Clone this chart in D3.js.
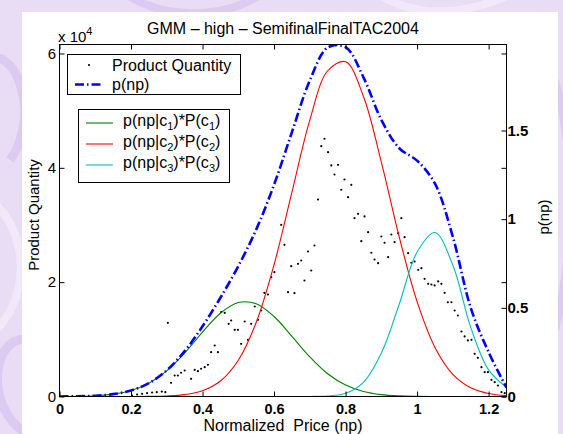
<!DOCTYPE html>
<html>
<head>
<meta charset="utf-8">
<script src="https://cdn.jsdelivr.net/npm/d3@7"></script>
<style>
  html, body { margin: 0; padding: 0; background: #e9ddf6; }
  svg { display: block; font-family: "Liberation Sans", Arial, Helvetica, sans-serif; }
</style>
</head>
<body>
<svg id="chart" width="563" height="434"></svg>
<script>
// normalized price grid for the density curves
const gridX = [0, 0.05, 0.1, 0.15, 0.2, 0.25, 0.3, 0.35, 0.4, 0.45, 0.5, 0.55, 0.6,
  0.65, 0.7, 0.75, 0.8, 0.85, 0.9, 0.95, 1, 1.05, 1.1, 1.15, 1.2, 1.25];
// p(np|c_k)*P(c_k) (right axis)
const pComp1 = [0.0004, 0.0014, 0.0046, 0.0132, 0.0337, 0.0747, 0.1449, 0.2455, 0.3633,
  0.4695, 0.530, 0.523, 0.451, 0.339, 0.2233, 0.1283, 0.0644, 0.0283, 0.0108, 0.0036,
  0.0011, 0.0003, 0.0001, 0, 0, 0];
const pComp2 = [0, 0, 0, 0, 0.0002, 0.0007, 0.003, 0.0106, 0.0326, 0.0874, 0.2047, 0.4176,
  0.743, 1.152, 1.559, 1.837, 1.888, 1.692, 1.322, 0.900, 0.535, 0.277, 0.125, 0.049,
  0.017, 0.005];
const pComp3 = [0, 0, 0, 0, 0, 0, 0, 0, 0, 0, 0, 0, 0, 0, 0.0004, 0.003, 0.018, 0.08,
  0.245, 0.52, 0.815, 0.925, 0.74, 0.39, 0.15, 0.052];
// p(np)
const pTotal = [0.0004, 0.0014, 0.0046, 0.0132, 0.034, 0.075, 0.148, 0.256, 0.396, 0.557,
  0.735, 0.941, 1.194, 1.491, 1.782, 1.968, 1.97, 1.80, 1.56, 1.40, 1.33, 1.20, 0.90,
  0.50, 0.25, 0.05];

// scatter: product quantity vs normalized price (left axis)
const priceX = [0.203, 0.217, 0.231, 0.245, 0.259, 0.272, 0.286, 0.296, 0.303, 0.312,
  0.322, 0.331, 0.340, 0.350, 0.368, 0.378, 0.387, 0.396, 0.406, 0.415, 0.424, 0.434,
  0.443, 0.452, 0.462, 0.473, 0.480, 0.490, 0.499, 0.508, 0.518, 0.527, 0.536, 0.546,
  0.555, 0.564, 0.573, 0.583, 0.592, 0.601, 0.620, 0.629, 0.639, 0.648, 0.657, 0.667,
  0.676, 0.685, 0.695, 0.704, 0.713, 0.723, 0.732, 0.741, 0.751, 0.760, 0.769, 0.779,
  0.788, 0.797, 0.807, 0.816, 0.825, 0.835, 0.844, 0.853, 0.863, 0.872, 0.881, 0.891,
  0.900, 0.909, 0.919, 0.928, 0.937, 0.947, 0.956, 0.965, 0.975, 0.984, 0.993, 1.003,
  1.012, 1.021, 1.031, 1.040, 1.049, 1.059, 1.068, 1.077, 1.086, 1.096, 1.105, 1.114,
  1.124, 1.133, 1.142, 1.152, 1.161, 1.170, 1.180, 1.189, 1.198, 1.208, 1.217, 1.226,
  1.236, 1.245];
const quantity = [170, 350, 470, 580, 700, 750, 870, 750, 12890, 2400,
  3670, 3670, 4150, 4550, 3100, 4670, 4430, 4850, 5130, 5550, 7750, 8920,
  7750, 14750, 14640, 12720, 13290, 11670, 11670, 9220, 13120, 9920, 12720, 15740,
  13420, 15040, 18140, 17840, 20870, 21740, 30030, 26530, 18240, 22790, 18070, 23210,
  23790, 20290, 25360, 22040, 26410, 34460, 43780, 45080, 42730, 40410, 38830, 40530,
  36160, 37960, 34860, 37030, 31190, 31960, 27160, 31490, 28740, 25140, 23960, 23320,
  27990, 26890, 24370, 28340, 26990, 28560, 31190, 27860, 25070, 23390, 23610, 22160,
  22440, 20590, 19710, 19590, 19420, 20120, 19710, 18140, 16490, 16490, 15040, 14170,
  11370, 10500, 9800, 9920, 7470, 6770, 5130, 4250, 4250, 2920, 2500, 1920,
  750, 580];

const xTicks = [0, 0.2, 0.4, 0.6, 0.8, 1, 1.2];
const leftTicks = [0, 20000, 40000, 60000];
const rightTicks = [0, 0.5, 1, 1.5];

const components = [
  { name: '1', values: pComp1, color: '#008000' },
  { name: '2', values: pComp2, color: '#ff0000' },
  { name: '3', values: pComp3, color: '#00bfbf' },
];

const svg = d3.select('#chart');
const box = { left: 59.5, right: 506.5, top: 44.5, bottom: 396.5 };
const FONT = 16;

// page backdrop with soft swirls
const deco = svg.append('g').attr('fill', 'none');
deco.append('rect').attr('width', 563).attr('height', 434).attr('fill', '#e9ddf6');
[
  ['M-20,60 C20,40 40,120 10,160', '#dccbf0', 9],
  ['M-10,200 C30,230 30,300 -5,330', '#f1e9fa', 8],
  ['M40,440 C-20,420 -10,330 30,340', '#dccbf0', 9],
  ['M120,-10 C160,20 220,20 260,-5', '#dccbf0', 8],
  ['M380,-5 C420,20 470,15 520,-10', '#f1e9fa', 8],
  ['M555,80 C575,150 575,250 555,330', '#dccbf0', 8],
].forEach(([d, c, w]) => deco.append('path').attr('d', d).attr('stroke', c).attr('stroke-width', w));

// white figure panel
svg.append('rect')
  .attr('x', 22).attr('y', 12).attr('width', 536).attr('height', 422)
  .attr('fill', '#ffffff');

const x = d3.scaleLinear().domain([0, 1.25]).range([box.left, box.right]);
const yL = d3.scaleLinear().domain([0, 61570]).range([box.bottom, box.top]);
const yR = d3.scaleLinear().domain([0, 1.985]).range([box.bottom, box.top]);

svg.append('clipPath').attr('id', 'plotclip')
  .append('rect')
  .attr('x', box.left).attr('y', box.top)
  .attr('width', box.right - box.left).attr('height', box.bottom - box.top);

const plot = svg.append('g').attr('clip-path', 'url(#plotclip)');

// scatter points
plot.append('g')
  .selectAll('circle')
  .data(priceX.map((v, i) => [v, quantity[i]]))
  .enter()
  .append('circle')
  .attr('cx', (d) => x(d[0]))
  .attr('cy', (d) => yL(d[1]))
  .attr('r', 1.1)
  .attr('fill', '#000');

const line = (vals) => d3.line()
  .x((d, i) => x(gridX[i]))
  .y((d) => yR(d))
  .curve(d3.curveCatmullRom.alpha(0.5))(vals);

components.forEach((c) => {
  plot.append('path')
    .attr('d', line(c.values))
    .attr('fill', 'none')
    .attr('stroke', c.color)
    .attr('stroke-width', 1.1);
});

plot.append('path')
  .attr('d', line(pTotal))
  .attr('fill', 'none')
  .attr('stroke', '#0000ff')
  .attr('stroke-width', 2.6)
  .attr('stroke-dasharray', '9,3,1.5,3');

// axes: inward ticks, mirrored on the box like the original figure
const tick = -5;
const styleAxis = (g, bold, size) => {
  g.select('.domain').remove();
  g.selectAll('line').attr('stroke', '#000');
  g.selectAll('text')
    .attr('fill', '#000')
    .attr('font-family', '"Liberation Sans", Arial, Helvetica, sans-serif')
    .attr('font-size', size || 15)
    .attr('font-weight', bold ? 'bold' : 'normal');
};

svg.append('g')
  .attr('transform', `translate(0,${box.bottom})`)
  .call(d3.axisBottom(x).tickValues(xTicks).tickSize(tick).tickPadding(7)
    .tickFormat((d) => String(d)))
  .call((g) => styleAxis(g, true, 14.5));

svg.append('g')
  .attr('transform', `translate(0,${box.top})`)
  .call(d3.axisTop(x).tickValues(xTicks).tickSize(tick).tickFormat(''))
  .call((g) => styleAxis(g, false));

svg.append('g')
  .attr('transform', `translate(${box.left},0)`)
  .call(d3.axisLeft(yL).tickValues(leftTicks).tickSize(tick).tickPadding(3.5)
    .tickFormat((d) => String(d / 10000)))
  .call((g) => styleAxis(g, false));

svg.append('g')
  .attr('transform', `translate(${box.right},0)`)
  .call(d3.axisRight(yL).tickValues(leftTicks).tickSize(tick).tickFormat(''))
  .call((g) => styleAxis(g, false));

svg.append('g')
  .attr('transform', `translate(${box.right},0)`)
  .call(d3.axisRight(yR).tickValues(rightTicks).tickSize(tick).tickPadding(1)
    .tickFormat((d) => String(d)))
  .call((g) => styleAxis(g, true));

svg.append('rect')
  .attr('x', box.left).attr('y', box.top)
  .attr('width', box.right - box.left).attr('height', box.bottom - box.top)
  .attr('fill', 'none')
  .attr('stroke', '#000')
  .attr('stroke-width', 1);

// titles and labels
svg.append('text')
  .attr('x', (box.left + box.right) / 2).attr('y', 34)
  .attr('text-anchor', 'middle')
  .attr('font-size', FONT)
  .text('GMM \u2013 high \u2013 SemifinalFinalTAC2004');

const exp = svg.append('text').attr('x', 58).attr('y', 42).attr('font-size', 15);
exp.append('tspan').text('x 10');
exp.append('tspan').attr('dy', -7).attr('font-size', 11).text('4');

svg.append('text')
  .attr('x', (box.left + box.right) / 2).attr('y', 430.5)
  .attr('text-anchor', 'middle')
  .attr('font-size', FONT)
  .attr('xml:space', 'preserve')
  .text('Normalized  Price (np)');

svg.append('text')
  .attr('transform', `translate(39,215) rotate(-90)`)
  .attr('text-anchor', 'middle')
  .attr('font-size', 15)
  .text('Product Quantity');

svg.append('text')
  .attr('transform', `translate(549,217) rotate(-90)`)
  .attr('text-anchor', 'middle')
  .attr('font-size', 15)
  .text('p(np)');

// legend 1
const leg1 = svg.append('g');
leg1.append('rect')
  .attr('x', 67.5).attr('y', 54.5).attr('width', 173).attr('height', 40)
  .attr('fill', '#fff').attr('stroke', '#000');
leg1.append('circle').attr('cx', 89).attr('cy', 65).attr('r', 1.1).attr('fill', '#000');
leg1.append('text').attr('x', 112).attr('y', 70.5).attr('font-size', FONT).text('Product Quantity');
leg1.append('line')
  .attr('x1', 75).attr('x2', 102).attr('y1', 84.5).attr('y2', 84.5)
  .attr('stroke', '#0000ff').attr('stroke-width', 2.6)
  .attr('stroke-dasharray', '9,3,1.5,3');
leg1.append('text').attr('x', 112).attr('y', 90).attr('font-size', FONT).text('p(np)');

// legend 2
const leg2 = svg.append('g');
leg2.append('rect')
  .attr('x', 78.5).attr('y', 109.5).attr('width', 151).attr('height', 73)
  .attr('fill', '#fff').attr('stroke', '#000');
components.forEach((c, i) => {
  const base = 126 + i * 21;
  leg2.append('line')
    .attr('x1', 86).attr('x2', 113).attr('y1', base - 3).attr('y2', base - 3)
    .attr('stroke', c.color).attr('stroke-width', 1.1);
  const t = leg2.append('text').attr('x', 123).attr('y', base).attr('font-size', FONT);
  t.append('tspan').text('p(np|c');
  t.append('tspan').attr('dy', 4).attr('font-size', 11).text(c.name);
  t.append('tspan').attr('dy', -4).text(')*P(c');
  t.append('tspan').attr('dy', 4).attr('font-size', 11).text(c.name);
  t.append('tspan').attr('dy', -4).text(')');
});
</script>
</body>
</html>
